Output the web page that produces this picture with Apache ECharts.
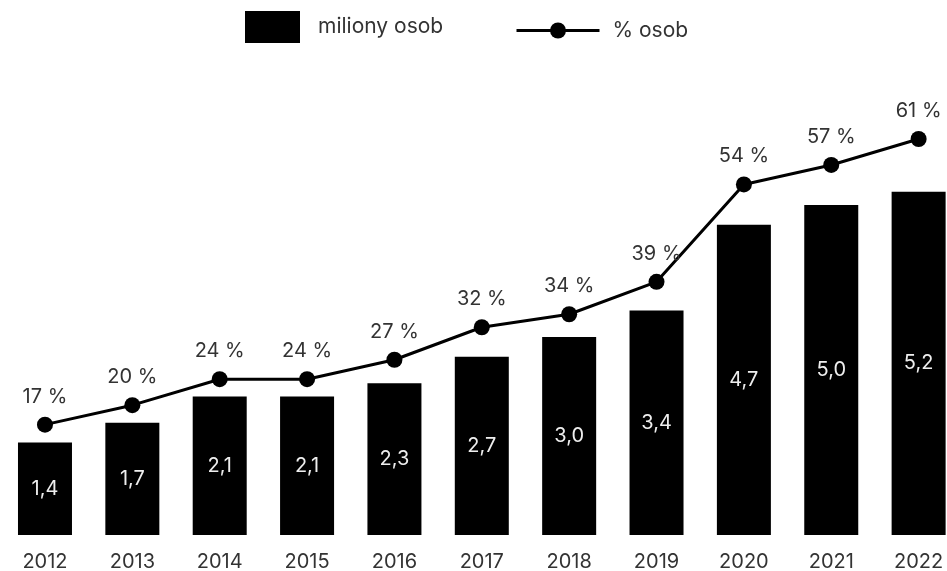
<!DOCTYPE html>
<html>
<head>
<meta charset="utf-8">
<script src="https://cdn.jsdelivr.net/npm/echarts@6/dist/echarts.min.js"></script>
<style>
html,body{margin:0;padding:0;background:#fff;}
#chart{width:947px;height:571px;}
</style>
</head>
<body>
<div id="chart"></div>
<script>
const years = ['2012','2013','2014','2015','2016','2017','2018','2019','2020','2021','2022'];
const millions = [1.4, 1.7, 2.1, 2.1, 2.3, 2.7, 3.0, 3.4, 4.7, 5.0, 5.2];
const percents = [17, 20, 24, 24, 27, 32, 34, 39, 54, 57, 61];
const barName = 'miliony osob';
const lineName = '% osob';

const FONT = 'Inter';
const chart = echarts.init(document.getElementById('chart'), null, {renderer: 'canvas'});
chart.setOption({
  animation: false,
  backgroundColor: '#ffffff',
  textStyle: {fontFamily: FONT},
  legend: [
    {
      data: [barName], left: 245, top: 11, padding: 0, itemWidth: 55, itemHeight: 32,
      icon: 'rect',
      textStyle: {fontFamily: FONT, fontSize: 21, color: '#333', padding: [0, 0, 0, 13]}
    },
    {
      data: [lineName], left: 515, top: 20, padding: 0, itemWidth: 83, itemHeight: 20,
      lineStyle: {width: 3},
      textStyle: {fontFamily: FONT, fontSize: 21, color: '#333', padding: [0, 0, 0, 8]}
    }
  ],
  grid: {left: 1.3, top: 139, right: -15.3, bottom: 36, containLabel: false, outerBoundsMode: 'none'},
  xAxis: {
    type: 'category', data: years,
    axisLine: {show: false}, axisTick: {show: false},
    axisLabel: {fontFamily: FONT, fontSize: 20, color: '#333', margin: 17, interval: 0}
  },
  yAxis: [
    {type: 'value', min: 0, max: 6, show: false, splitLine: {show: false}},
    {type: 'value', min: 0, max: 61, show: false, splitLine: {show: false}}
  ],
  series: [
    {
      name: barName, type: 'bar', data: millions, yAxisIndex: 0,
      barWidth: 54,
      itemStyle: {color: '#000'},
      label: {
        show: true, position: 'inside', color: '#eeeeee', fontFamily: FONT, fontSize: 20,
        formatter: p => p.value.toFixed(1).replace('.', ',')
      }
    },
    {
      name: lineName, type: 'line', data: percents, yAxisIndex: 1,
      symbol: 'circle', symbolSize: 16,
      lineStyle: {color: '#000', width: 3},
      itemStyle: {color: '#000'},
      label: {
        show: true, position: 'top', distance: 10, color: '#333', fontFamily: FONT, fontSize: 20,
        formatter: p => p.value + '\u00a0%'
      }
    }
  ]
});
</script>
</body>
</html>
